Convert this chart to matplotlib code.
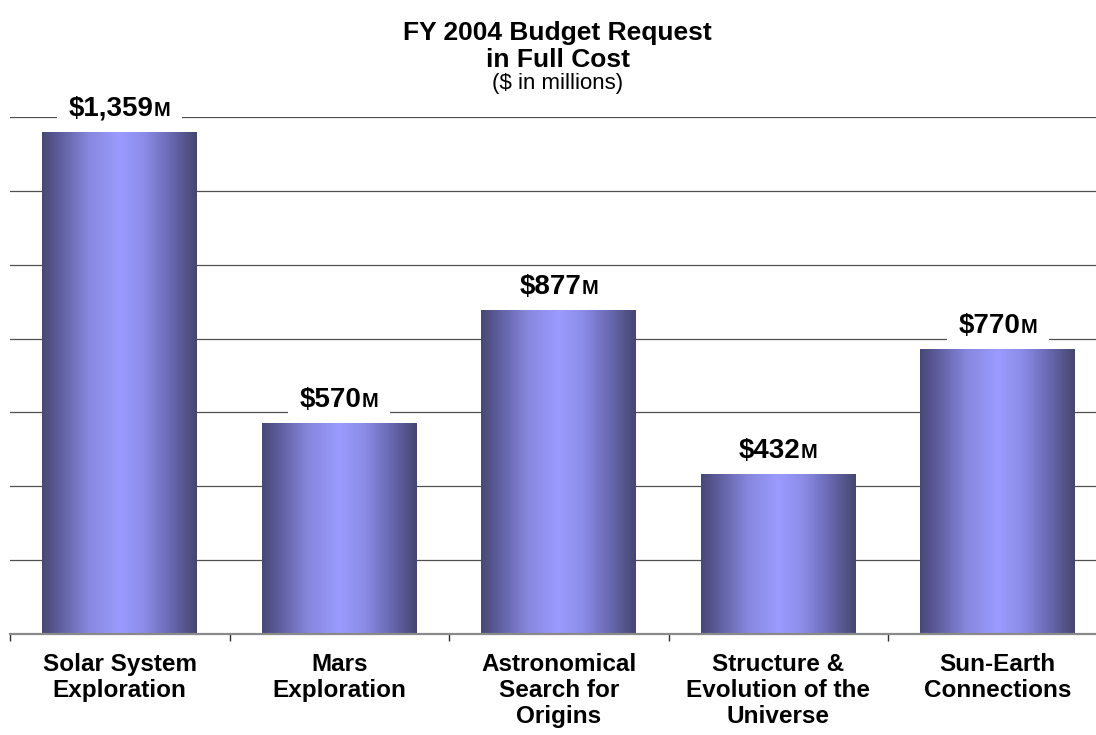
import matplotlib
matplotlib.use("Agg")
import matplotlib.pyplot as plt
import numpy as np
from matplotlib.colors import LinearSegmentedColormap
from matplotlib.offsetbox import TextArea, HPacker, AnnotationBbox, DrawingArea

plt.rcParams['font.family'] = ['Liberation Sans', 'DejaVu Sans']

categories = ["Solar System\nExploration", "Mars\nExploration",
              "Astronomical\nSearch for\nOrigins",
              "Structure &\nEvolution of the\nUniverse",
              "Sun-Earth\nConnections"]
values = [1359, 570, 877, 432, 770]
value_labels = ["\\$1,359", "\\$570", "\\$877", "\\$432", "\\$770"]
unit_suffix = "M"
y_gridticks = [0, 200, 400, 600, 800, 1000, 1200, 1400]

fig = plt.figure(figsize=(10.96, 7.35), dpi=100)
ax = fig.add_axes([10/1096, 101/735, 1097.5/1096, 517/735])

x = np.arange(len(values))
bars = ax.bar(x, values, width=0.706, color='none', edgecolor='none', zorder=2)

cmap = LinearSegmentedColormap.from_list("barfade", [
    (0.00, (72/255, 72/255, 118/255)),
    (0.12, (95/255, 95/255, 160/255)),
    (0.30, (135/255, 135/255, 222/255)),
    (0.50, (155/255, 155/255, 255/255)),
    (0.66, (140/255, 140/255, 232/255)),
    (0.83, (105/255, 105/255, 178/255)),
    (1.00, (70/255, 70/255, 112/255)),
])
grad = np.linspace(0, 1, 256).reshape(1, -1)
for r in bars:
    bx, bw, bh = r.get_x(), r.get_width(), r.get_height()
    ax.imshow(grad, extent=[bx, bx + bw, 0, bh], aspect='auto', cmap=cmap,
              zorder=2, interpolation='bilinear')

ax.set_xlim(-0.5, len(values) - 0.5)
ax.set_ylim(0, 1400)
ax.set_yticks(y_gridticks)
ax.set_yticklabels([])
ax.tick_params(axis='y', length=0)
ax.yaxis.grid(True, color='#505050', linewidth=0.9)
ax.set_axisbelow(True)

for s in ['left', 'right', 'top']:
    ax.spines[s].set_visible(False)
ax.spines['bottom'].set_color('#8a8a8a')
ax.spines['bottom'].set_linewidth(1.6)
ax.spines['bottom'].set_zorder(3)

ax.set_xticks(x)
ax.set_xticklabels(categories, fontsize=17.5, fontweight='bold', linespacing=1.15)
ax.tick_params(axis='x', which='major', length=0, pad=14)
ax.set_xticks(np.arange(-0.5, len(values)), minor=True)
ax.tick_params(axis='x', which='minor', length=5, width=1, color='#303030',
               direction='out')

for xi, v, lab in zip(x, values, value_labels):
    t1 = TextArea(lab, textprops=dict(fontsize=20, fontweight='bold', color='black'))
    t2 = TextArea(unit_suffix, textprops=dict(fontsize=14.5, fontweight='bold', color='black'))
    pk = HPacker(children=[DrawingArea(5, 1), t1, t2, DrawingArea(5, 1)],
                 align='baseline', pad=0, sep=0)
    ab = AnnotationBbox(pk, (xi, v), xybox=(0, 17), boxcoords='offset points',
                        frameon=True, pad=0.35, box_alignment=(0.5, 0.5),
                        bboxprops=dict(facecolor='white', edgecolor='none'),
                        zorder=5)
    ax.add_artist(ab)

fig.text(0.509, 1 - 40/735, "FY 2004 Budget Request", ha='center', va='baseline',
         fontsize=19, fontweight='bold')
fig.text(0.509, 1 - 67/735, "in Full Cost", ha='center', va='baseline',
         fontsize=19, fontweight='bold')
fig.text(0.509, 1 - 89/735, "(\\$ in millions)", ha='center', va='baseline',
         fontsize=16)

fig.savefig("out.png", dpi=100)
